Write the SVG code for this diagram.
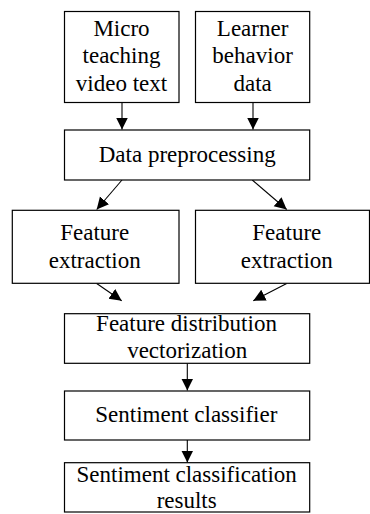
<svg xmlns="http://www.w3.org/2000/svg" width="370" height="514" viewBox="0 0 370 514">
<style>
.n rect{fill:#fff;stroke:#000;stroke-width:1.2}
text{font-family:"Liberation Serif","Times New Roman",serif;font-size:23px;fill:#000;text-anchor:middle}
.c line{stroke:#000;stroke-width:1.1}
</style>
<defs>
<marker id="a" markerUnits="userSpaceOnUse" markerWidth="13" markerHeight="13" refX="12" refY="6" orient="auto"><path d="M0,0 L12,6 L0,12 z" fill="#000"/></marker>
</defs>
<rect x="0" y="0" width="370" height="514" fill="#fff"/>
<g class="c" id="connectors">
<line x1="122" y1="102.5" x2="122" y2="129.5" marker-end="url(#a)"/>
<line x1="253" y1="102.5" x2="253" y2="129.5" marker-end="url(#a)"/>
<line x1="122" y1="180" x2="96.7" y2="209.5" marker-end="url(#a)"/>
<line x1="252.3" y1="180" x2="286.7" y2="209.5" marker-end="url(#a)"/>
<line x1="96.7" y1="283.5" x2="121.7" y2="300.7" marker-end="url(#a)"/>
<line x1="286.7" y1="283.5" x2="253.3" y2="300.7" marker-end="url(#a)"/>
<line x1="187.3" y1="363.3" x2="187.3" y2="390.5" marker-end="url(#a)"/>
<line x1="187.3" y1="440" x2="187.3" y2="462.5" marker-end="url(#a)"/>
</g>
<g class="n" id="micro"><rect x="64.5" y="11.5" width="114.5" height="91"/>
<text x="121.5" y="35.7">Micro</text><text x="121.5" y="63">teaching</text><text x="121.5" y="90.7">video text</text></g>
<g class="n" id="learner"><rect x="195.5" y="11.5" width="114.2" height="91"/>
<text x="252.6" y="35.7">Learner</text><text x="252.6" y="63">behavior</text><text x="252.6" y="90.7">data</text></g>
<g class="n" id="prep"><rect x="64.5" y="130" width="245.2" height="50"/>
<text x="187.2" y="162">Data preprocessing</text></g>
<g class="n" id="fe1"><rect x="12.3" y="210.3" width="166.7" height="73"/>
<text x="94.7" y="240">Feature</text><text x="94.7" y="267.7">extraction</text></g>
<g class="n" id="fe2"><rect x="195.5" y="210.3" width="174" height="73"/>
<text x="286.8" y="240">Feature</text><text x="286.8" y="267.7">extraction</text></g>
<g class="n" id="vec"><rect x="64.5" y="313.7" width="245.2" height="49.6"/>
<text x="186.5" y="331">Feature distribution</text><text x="187.2" y="358">vectorization</text></g>
<g class="n" id="cls"><rect x="64.5" y="391" width="245.2" height="49"/>
<text x="186.3" y="422">Sentiment classifier</text></g>
<g class="n" id="res"><rect x="64.5" y="462.7" width="245.2" height="49.3"/>
<text x="186.7" y="481.7">Sentiment classification</text><text x="186.7" y="508">results</text></g>
</svg>
